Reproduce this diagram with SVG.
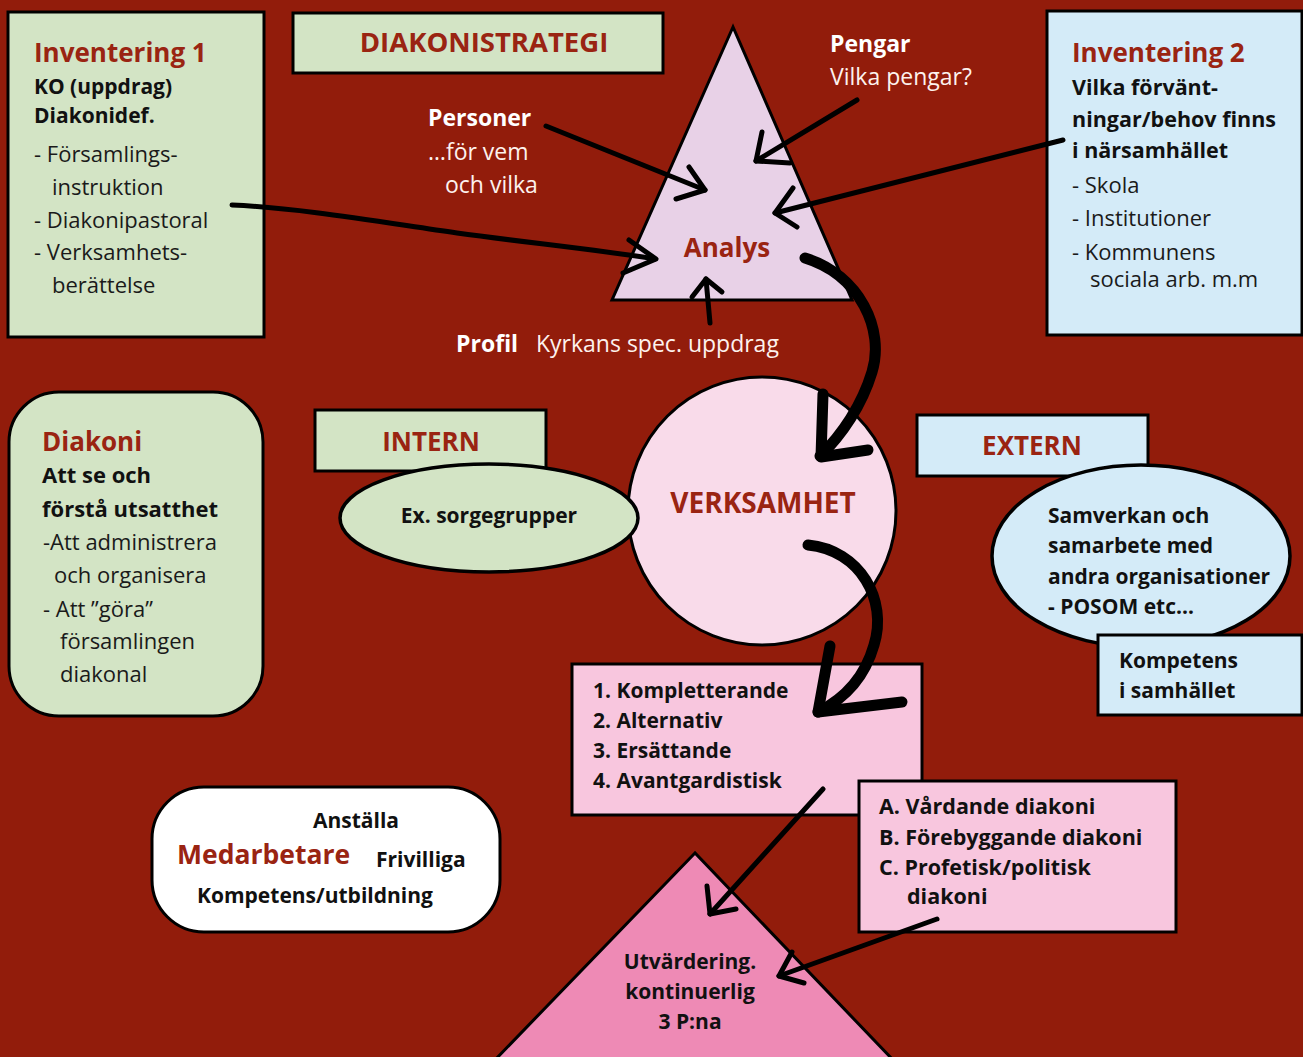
<svg xmlns="http://www.w3.org/2000/svg" width="1303" height="1057" viewBox="0 0 1303 1057">
<style>
text{font-family:"Open Sans","Liberation Sans",sans-serif;}
.box{stroke:#000;stroke-width:3;}
.g{fill:#d3e4c5;}
.b{fill:#d4ebf8;}
.title{fill:#9a2412;font-weight:700;font-size:26px;}
.bold{fill:#111;font-weight:700;font-size:21px;}
.reg{fill:#1a1a1a;font-size:22px;}
.wb{fill:#fff;font-weight:700;font-size:23px;}
.wr{fill:#fdf2ee;font-size:23px;}
.arr{fill:none;stroke:#000;stroke-linecap:round;stroke-linejoin:round;}
.thin{stroke-width:5;}
.thick{stroke-width:11;}
</style>
<rect x="0" y="0" width="1303" height="1057" fill="#921c0b"/>

<g id="inventering1">
<rect class="box g" x="8" y="12" width="256" height="325"/>
<text class="title" x="34" y="62">Inventering 1</text>
<text class="bold" x="34" y="94">KO (uppdrag)</text>
<text class="bold" x="34" y="123">Diakonidef.</text>
<text class="reg" x="34" y="162">- Församlings-</text>
<text class="reg" x="52" y="195">instruktion</text>
<text class="reg" x="34" y="228">- Diakonipastoral</text>
<text class="reg" x="34" y="260">- Verksamhets-</text>
<text class="reg" x="52" y="293">berättelse</text>
</g>

<g id="diakonistrategi">
<rect class="box g" x="293" y="13" width="370" height="60"/>
<text class="title" x="484" y="52" text-anchor="middle" style="font-size:27.5px">DIAKONISTRATEGI</text>
</g>

<g id="analys">
<polygon points="733,27 612,300 852,300" fill="#e8d1e7" stroke="#000" stroke-width="3" stroke-linejoin="miter"/>
<text class="title" x="727" y="257" text-anchor="middle">Analys</text>
</g>

<g id="inventering2">
<rect class="box b" x="1047" y="11" width="255" height="324"/>
<text class="title" x="1072" y="62">Inventering 2</text>
<text class="bold" x="1072" y="95" style="font-size:21.5px">Vilka förvänt-</text>
<text class="bold" x="1072" y="127" style="font-size:21.5px">ningar/behov finns</text>
<text class="bold" x="1072" y="158" style="font-size:21.5px">i närsamhället</text>
<text class="reg" x="1072" y="193">- Skola</text>
<text class="reg" x="1072" y="226">- Institutioner</text>
<text class="reg" x="1072" y="260">- Kommunens</text>
<text class="reg" x="1090" y="287">sociala arb. m.m</text>
</g>

<g id="pengar">
<text class="wb" x="830" y="52">Pengar</text>
<text class="wr" x="830" y="85">Vilka pengar?</text>
</g>
<g id="personer">
<text class="wb" x="428" y="126">Personer</text>
<text class="wr" x="428" y="160">…för vem</text>
<text class="wr" x="445" y="193">och vilka</text>
</g>
<g id="profil">
<text class="wb" x="456" y="352">Profil</text>
<text class="wr" x="536" y="352">Kyrkans spec. uppdrag</text>
</g>

<g id="diakoni">
<rect class="box g" x="9" y="392" width="254" height="324" rx="50" ry="50"/>
<text class="title" x="42" y="451">Diakoni</text>
<text class="bold" x="42" y="483" style="font-size:22px">Att se och</text>
<text class="bold" x="42" y="517" style="font-size:22px">förstå utsatthet</text>
<text class="reg" x="43" y="550">-Att administrera</text>
<text class="reg" x="54" y="583">och organisera</text>
<text class="reg" x="43" y="617">- Att ”göra”</text>
<text class="reg" x="60" y="649">församlingen</text>
<text class="reg" x="60" y="682">diakonal</text>
</g>

<g id="intern">
<rect class="box g" x="315" y="410" width="231" height="61"/>
<text class="title" x="431" y="451" text-anchor="middle">INTERN</text>
</g>

<g id="verksamhet">
<circle cx="762" cy="511" r="134" fill="#f9dbea" stroke="#000" stroke-width="3"/>
<text class="title" x="763" y="513" text-anchor="middle" style="font-size:28px">VERKSAMHET</text>
</g>

<g id="sorgegrupper">
<ellipse cx="489" cy="518" rx="149" ry="54" fill="#d3e4c5" stroke="#000" stroke-width="3.5"/>
<text class="bold" x="489" y="523" text-anchor="middle">Ex. sorgegrupper</text>
</g>

<g id="extern">
<rect class="box b" x="917" y="415" width="231" height="61"/>
<text class="title" x="1032" y="455" text-anchor="middle">EXTERN</text>
</g>

<g id="samverkan">
<ellipse cx="1141" cy="556" rx="149" ry="91" fill="#d4ebf8" stroke="#000" stroke-width="3.5"/>
<text class="bold" x="1048" y="523">Samverkan och</text>
<text class="bold" x="1048" y="553">samarbete med</text>
<text class="bold" x="1048" y="584">andra organisationer</text>
<text class="bold" x="1048" y="614">- POSOM etc…</text>
</g>

<g id="kompetens-samhallet">
<rect class="box b" x="1098" y="635" width="204" height="80"/>
<text class="bold" x="1119" y="668">Kompetens</text>
<text class="bold" x="1119" y="698">i samhället</text>
</g>

<g id="typer">
<rect class="box" x="572" y="664" width="350" height="151" fill="#f8c6de"/>
<text class="bold" x="593" y="698">1. Kompletterande</text>
<text class="bold" x="593" y="728">2. Alternativ</text>
<text class="bold" x="593" y="758">3. Ersättande</text>
<text class="bold" x="593" y="788">4. Avantgardistisk</text>
</g>

<g id="utvardering">
<polygon points="695,853 493,1062 895,1062" fill="#ee8ab5" stroke="#000" stroke-width="3"/>
<text class="bold" x="690" y="969" text-anchor="middle">Utvärdering.</text>
<text class="bold" x="690" y="999" text-anchor="middle">kontinuerlig</text>
<text class="bold" x="690" y="1029" text-anchor="middle">3 P:na</text>
</g>

<g id="diakoniformer">
<rect class="box" x="859" y="781" width="317" height="151" fill="#f8c6de"/>
<text class="bold" x="879" y="814" style="font-size:21.5px">A. Vårdande diakoni</text>
<text class="bold" x="879" y="845" style="font-size:21.5px">B. Förebyggande diakoni</text>
<text class="bold" x="879" y="875" style="font-size:21.5px">C. Profetisk/politisk</text>
<text class="bold" x="907" y="904" style="font-size:21.5px">diakoni</text>
</g>

<g id="medarbetare">
<rect class="box" x="152" y="787" width="348" height="145" rx="52" ry="52" fill="#fff"/>
<text class="bold" x="313" y="828">Anställa</text>
<text class="title" x="177" y="864" style="font-size:26.5px">Medarbetare</text>
<text class="bold" x="376" y="867">Frivilliga</text>
<text class="bold" x="197" y="903">Kompetens/utbildning</text>
</g>

<g id="connectors">
<path class="arr thin" d="M232,205 C300,208 380,222 457,233 C530,243 600,250 655,259"/>
<path class="arr thin" d="M629,240 L656,259 L623,273"/>
<path class="arr thin" d="M546,126 L705,190"/>
<path class="arr thin" d="M689,167 L705,190 L676,199"/>
<path class="arr thin" d="M857,100 L756,161"/>
<path class="arr thin" d="M762,132 L756,161 L790,163"/>
<path class="arr thin" d="M1063,140 L775,213"/>
<path class="arr thin" d="M793,188 L775,213 L797,227"/>
<path class="arr thin" d="M710,323 L706,279"/>
<path class="arr thin" d="M692,297 L706,279 L722,292"/>
<path class="arr thick" d="M805,258 C860,275 885,330 872,372 C862,405 842,435 820,456"/>
<path class="arr thick" d="M823,394 L821,457 L868,450"/>
<path class="arr thick" d="M808,545 C860,550 888,600 874,645 C864,680 842,700 818,712"/>
<path class="arr thick" d="M830,646 L818,712 L902,702"/>
<path class="arr thin" d="M823,789 L710,914"/>
<path class="arr thin" d="M707,886 L710,914 L736,909"/>
<path class="arr thin" d="M937,919 L779,976"/>
<path class="arr thin" d="M792,952 L779,976 L804,983"/>
</g>
</svg>
